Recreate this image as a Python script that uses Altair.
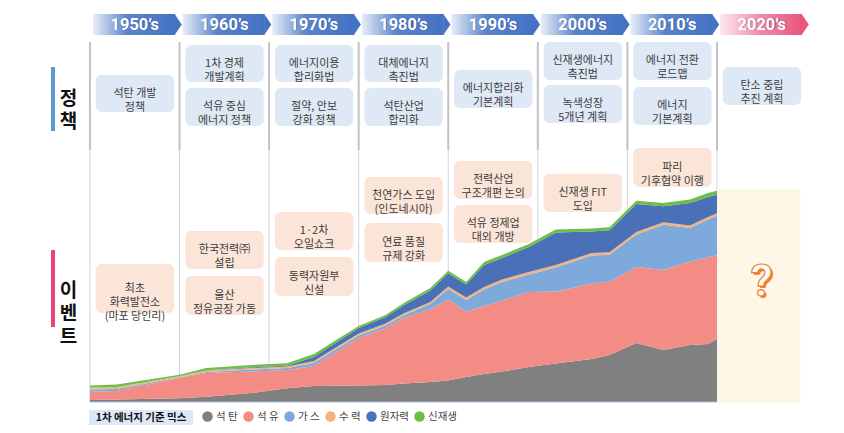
import altair as alt
import pandas as pd

# ---------------- primary energy mix (stacked area) ----------------
years   = [1950, 1953, 1960, 1963, 1968, 1972, 1975, 1980, 1983, 1985, 1988, 1990,
           1992, 1994, 1996, 1999, 2002, 2006, 2008, 2011, 2014, 2017, 2019, 2020]
coal    = [2, 2.5, 3.7, 5.3, 9, 13.7, 16, 16.5, 17, 18.5, 20, 21.5,
           25, 28, 30.5, 35, 38.5, 43, 47, 59, 52, 57, 58, 63]
oil     = [8.3, 8.5, 20.5, 23.7, 21.5, 18.3, 20, 47.5, 57, 65.5, 73, 81,
           65.5, 68, 71, 75, 72, 75.5, 73.3, 76, 80, 83.5, 86.5, 84]
gas     = [2.2, 2, 0.6, 1, 2, 2, 3, 2.5, 2.5, 2.5, 5, 10.5,
           11.5, 16.5, 18.5, 17.5, 24, 28, 27, 32.5, 45.3, 33.5, 38, 39.3]
hydro   = [2, 2, 1, 1.5, 1.5, 1.5, 2, 2, 2, 2, 2, 2.5,
           2.5, 2.5, 2.5, 2.5, 2.5, 2.5, 2.5, 2.5, 2.5, 2.5, 2.5, 2.5]
nuclear = [0, 0, 0, 0.3, 0.7, 0.8, 4, 5.5, 6.5, 8, 11.5, 13.3,
           13, 22, 21.5, 25, 32.5, 21.5, 22, 28, 16, 22.5, 20, 18.5]
renew   = [2.1, 2.5, 1.5, 2.2, 2.3, 2.5, 3, 2, 2, 2.2, 2.5, 2.5,
           2.5, 3, 3, 3, 3, 3, 3, 3.3, 3.2, 3.5, 4, 4]

series = ["석탄", "석유", "가스", "수력", "원자력", "신재생"]
series_values = [coal, oil, gas, hydro, nuclear, renew]
colors = ["#808080", "#f48c86", "#7eaadb", "#f4b27e", "#4a70b7", "#6cbf45"]

# ---------------- decades / headers ----------------
decades = [1950, 1960, 1970, 1980, 1990, 2000, 2010]
decade_labels = ["1950’s", "1960’s", "1970’s", "1980’s", "1990’s", "2000’s", "2010’s"]
future_decade = [2020]
future_label = ["2020’s"]
dividers = [1950, 1960, 1970, 1980, 1990, 2000, 2010, 2020]

# ---------------- policy boxes (decade, text, top, bottom in chart units) ----------------
policy_decade = [1950, 1960, 1960, 1970, 1970, 1980, 1980, 1990, 2000, 2000, 2010, 2010, 2020]
policy_text = ["석탄 개발\n정책", "1차 경제\n개발계획", "석유 중심\n에너지 정책",
               "에너지이용\n합리화법", "절약, 안보\n강화 정책", "대체에너지\n촉진법",
               "석탄산업\n합리화", "에너지합리화\n기본계획", "신재생에너지\n촉진법",
               "녹색성장\n5개년 계획", "에너지 전환\n로드맵", "에너지\n기본계획",
               "탄소 중립\n추진 계획"]
policy_top = [327, 357, 314, 357, 314, 357, 314, 332, 360, 317, 360, 315, 335]
policy_bot = [290, 320, 276, 320, 276, 320, 276, 294, 322, 279, 322, 277, 297]

# ---------------- event boxes ----------------
event_decade = [1950, 1960, 1960, 1970, 1970, 1980, 1980, 1990, 1990, 2000, 2010]
event_text = ["최초\n화력발전소\n(마포 당인리)", "한국전력㈜\n설립", "울산\n정유공장 가동",
              "1·2차\n오일쇼크", "동력자원부\n신설", "천연가스 도입\n(인도네시아)",
              "연료 품질\n규제 강화", "전력산업\n구조개편 논의", "석유 정제업\n대외 개방",
              "신재생 FIT\n도입", "파리\n기후협약 이행"]
event_top = [138, 171, 126, 190, 145, 225, 179, 241, 197, 228, 254]
event_bot = [89, 133, 87, 152, 106, 188, 140, 203, 159, 190, 215]

legend_title = "1차 에너지 기준 믹스"

# ---------------- scales ----------------
xs = alt.Scale(domain=[1940.85, 2033.29], nice=False, zero=False)
ys = alt.Scale(domain=[-23, 394], nice=False, zero=False)


def X(f):
    return alt.X(f, type="quantitative", scale=xs, axis=None)


def Y(f):
    return alt.Y(f, type="quantitative", scale=ys, axis=None)


FONT = "Noto Sans CJK KR"

# ---------------- build tables ----------------
rows = []
for k, (name, vals) in enumerate(zip(series, series_values)):
    for yr, v in zip(years, vals):
        rows.append({"year": yr, "value": v, "source": name, "order": k})
mix = pd.DataFrame(rows)

hdr = pd.DataFrame({"d": decades, "label": decade_labels})
hdr["x1"] = hdr["d"] + 0.35
hdr["x2"] = hdr["d"] + 9.5
hdr["tip"] = hdr["d"] + 10.25
hdr["xm"] = hdr["d"] + 5.0
hdr["y1"] = 388
hdr["y2"] = 367
hdr["ym"] = 377.5

fut = pd.DataFrame({"d": future_decade, "label": future_label})
fut["x1"] = fut["d"] + 0.35
fut["x2"] = fut["d"] + 9.5
fut["tip"] = fut["d"] + 10.25
fut["xm"] = fut["d"] + 5.0
fut["y1"] = 388
fut["y2"] = 367
fut["ym"] = 377.5

div = pd.DataFrame({"x": dividers})
div["top"] = 360
div["mid"] = 252
div["bot"] = 0

pol = pd.DataFrame({"d": policy_decade, "text": policy_text, "top": policy_top, "bot": policy_bot})
pol["x1"] = pol["d"] + 0.65
pol["x2"] = pol["d"] + 9.4
pol["xm"] = pol["d"] + 5.02
pol["ym"] = (pol["top"] + pol["bot"]) / 2

evt = pd.DataFrame({"d": event_decade, "text": event_text, "top": event_top, "bot": event_bot})
evt["x1"] = evt["d"] + 0.65
evt["x2"] = evt["d"] + 9.4
evt["xm"] = evt["d"] + 5.02
evt["ym"] = (evt["top"] + evt["bot"]) / 2

side = pd.DataFrame({
    "label": ["정\n책", "이\n벤\n트"],
    "x": [1947.6, 1947.6],
    "ym": [303.5, 111],
    "bx1": [1945.65, 1945.65], "bx2": [1946.1, 1946.1],
    "btop": [335, 152], "bbot": [271, 75],
    "color": ["#5b9bd5", "#e8457a"],
})

hatch = pd.DataFrame({"x1": [2020.05], "x2": [2029.3], "top": [213], "bot": [-0.7],
                      "qx": [2025.0], "qy": [119.5], "q": ["?"]})

base = pd.DataFrame({"x1": [1950], "x2": [2020], "y": [0]})

leg = pd.DataFrame({"x1": [1949.9], "x2": [1961.5], "top": [-8], "bot": [-23],
                    "xm": [1955.7], "ym": [-15.5], "t": [legend_title]})

# ---------------- layers ----------------
div_upper = alt.Chart(div).mark_rule(color="#c3c3c3", strokeWidth=2).encode(
    x=X("x"), y=Y("top"), y2="mid")
div_lower = alt.Chart(div).mark_rule(color="#d0d5dd", strokeWidth=1).encode(
    x=X("x"), y=Y("mid"), y2="bot")

area = alt.Chart(mix).mark_area(interpolate="linear", opacity=1).encode(
    x=X("year"),
    y=alt.Y("value:Q", stack="zero", scale=ys, axis=None),
    color=alt.Color("source:N", scale=alt.Scale(domain=series, range=colors),
                    legend=alt.Legend(orient="none", legendX=194, legendY=403,
                                      direction="horizontal", title=None,
                                      symbolType="circle", symbolSize=110,
                                      symbolStrokeWidth=0, symbolOpacity=1,
                                      labelFont=FONT, labelFontSize=10.5,
                                      labelColor="#444444", labelOffset=3,
                                      columnPadding=5, padding=0,
                                      labelExpr="length(datum.label) == 2 ? substring(datum.label, 0, 1) + ' ' + substring(datum.label, 1) : datum.label")),
    order=alt.Order("order:Q"),
)

baseline = alt.Chart(base).mark_rule(color="#a9c0e0", strokeWidth=1.2).encode(
    x=X("x1"), x2="x2", y=Y("y"))

hatch_rect = alt.Chart(hatch).mark_rect(color="#fef7e8").encode(
    x=X("x1"), x2="x2", y=Y("top"), y2="bot")
q_shadow = alt.Chart(hatch).mark_text(font="Roboto", fontSize=44, fontWeight="bold",
                                      color="#f07f2a", dx=2, dy=2).encode(
    x=X("qx"), y=Y("qy"), text="q:N")
q_text = alt.Chart(hatch).mark_text(font="Roboto", fontSize=44, fontWeight="bold",
                                    color="#ffffff", stroke="#f07f2a", strokeWidth=1.2).encode(
    x=X("qx"), y=Y("qy"), text="q:N")

blue_grad = alt.Gradient(gradient="linear",
                         stops=[alt.GradientStop(color="#e8eef8", offset=0),
                                alt.GradientStop(color="#5a83cb", offset=0.42),
                                alt.GradientStop(color="#4472c4", offset=1)],
                         x1=0, x2=1, y1=0, y2=0)
pink_grad = alt.Gradient(gradient="linear",
                         stops=[alt.GradientStop(color="#fde8ee", offset=0),
                                alt.GradientStop(color="#f08aa6", offset=0.5),
                                alt.GradientStop(color="#e9557e", offset=1)],
                         x1=0, x2=1, y1=0, y2=0)
TRI = "M -0.68 -1 L 0 0 L -0.68 1 Z"

hdr_rect = alt.Chart(hdr).mark_rect(color=blue_grad).encode(
    x=X("x1"), x2="x2", y=Y("y1"), y2="y2")
hdr_tri = alt.Chart(hdr).mark_point(shape=TRI, size=441, filled=True, opacity=1,
                                    color="#4472c4", strokeWidth=0).encode(
    x=X("tip"), y=Y("ym"))
fut_rect = alt.Chart(fut).mark_rect(color=pink_grad).encode(
    x=X("x1"), x2="x2", y=Y("y1"), y2="y2")
fut_tri = alt.Chart(fut).mark_point(shape=TRI, size=441, filled=True, opacity=1,
                                    color="#e9557e", strokeWidth=0).encode(
    x=X("tip"), y=Y("ym"))

hdr_shadow = alt.Chart(pd.concat([hdr, fut])).mark_text(
    font="Roboto", fontSize=16.5, fontWeight="bold", color="#1d3566", opacity=0.55,
    dx=0.8, dy=0.8).encode(x=X("xm"), y=Y("ym"), text="label:N")
hdr_text = alt.Chart(pd.concat([hdr, fut])).mark_text(
    font="Roboto", fontSize=16.5, fontWeight="bold", color="#ffffff").encode(
    x=X("xm"), y=Y("ym"), text="label:N")

pol_box = alt.Chart(pol).mark_rect(color="#dfe9f5", cornerRadius=6).encode(
    x=X("x1"), x2="x2", y=Y("top"), y2="bot")
pol_text = alt.Chart(pol).mark_text(font=FONT, fontSize=11, color="#3c3c3c",
                                    lineBreak="\n", lineHeight=14).encode(
    x=X("xm"), y=Y("ym"), text="text:N")

evt_box = alt.Chart(evt).mark_rect(color="#fbe4d8", cornerRadius=6).encode(
    x=X("x1"), x2="x2", y=Y("top"), y2="bot")
evt_text = alt.Chart(evt).mark_text(font=FONT, fontSize=11, color="#3c3c3c",
                                    lineBreak="\n", lineHeight=14).encode(
    x=X("xm"), y=Y("ym"), text="text:N")

side_bar = alt.Chart(side).mark_rect().encode(
    x=X("bx1"), x2="bx2", y=Y("btop"), y2="bbot",
    color=alt.Color("color:N", scale=None))
side_text = alt.Chart(side).mark_text(font=FONT, fontSize=19, fontWeight="bold",
                                      color="#111111", lineBreak="\n", lineHeight=23).encode(
    x=X("x"), y=Y("ym"), text="label:N")

leg_box = alt.Chart(leg).mark_rect(color="#dce8f5").encode(
    x=X("x1"), x2="x2", y=Y("top"), y2="bot")
leg_text = alt.Chart(leg).mark_text(font=FONT, fontSize=10.5, fontWeight="bold",
                                    color="#111111").encode(
    x=X("xm"), y=Y("ym"), text="t:N")

chart = alt.layer(
    div_upper, div_lower, area, baseline, hatch_rect, q_shadow, q_text,
    hdr_rect, hdr_tri, fut_rect, fut_tri, hdr_shadow, hdr_text,
    pol_box, pol_text, evt_box, evt_text, side_bar, side_text, leg_box, leg_text,
).properties(
    width=828, height=417,
    autosize=alt.AutoSizeParams(type="none"),
    padding=0,
    background="#ffffff",
).configure_view(stroke=None)

chart.save("out.html", embed_options={"renderer": "svg", "actions": False})
